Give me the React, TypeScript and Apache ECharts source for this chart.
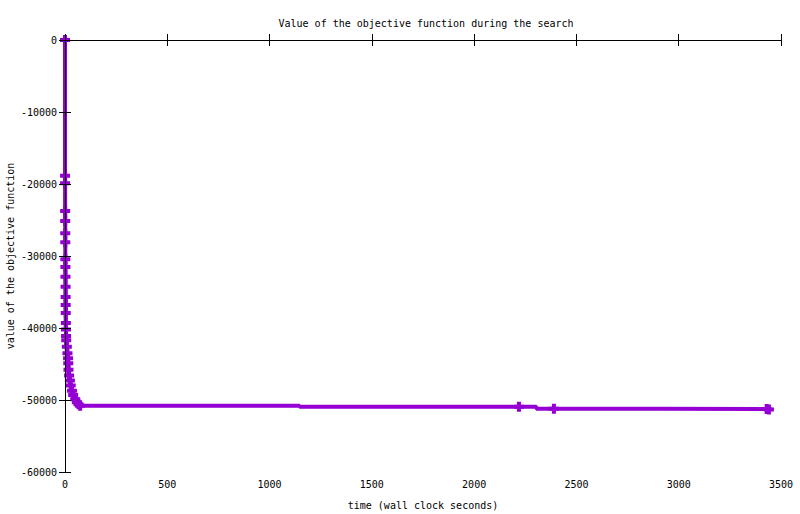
import React, { useEffect, useRef } from "react";
import * as echarts from "echarts";

const titleText = "Value of the objective function during the search";
const xName = "time (wall clock seconds)";
const yName = "value of the objective function";

const times = [
  0, 0.3, 0.5, 0.8, 1.0, 1.2, 1.4, 1.7, 2.0, 2.3, 2.7, 3.0, 3.3, 3.7, 4.2, 4.7, 5.2, 6, 9, 12, 15,
  16, 17, 20, 24, 28, 34, 40, 50, 58, 66, 74, 2219, 2390, 3430, 3441,
];
const values = [
  0, -18850, -19900, -23750, -25140, -26850, -28100, -30440, -31530, -32870, -34260, -35700,
  -36800, -37900, -39300, -40200, -41100, -41700, -42600, -43500, -44200, -44900, -45800,
  -46600, -47300, -48000, -48700, -49300, -49900, -50300, -50600, -50800, -50930, -51210,
  -51250, -51330,
];

const xMin = 0;
const xMax = 3500;
const xStep = 500;
const yMin = -60000;
const yMax = 0;
const yStep = 10000;

const FONT = "DejaVu Sans Mono";
const PLUS = "path://M3,0H7V3H10V7H7V10H3V7H0V3H3Z";

export default function App() {
  const ref = useRef<HTMLDivElement>(null);
  useEffect(() => {
    if (!ref.current) return;
    const chart = echarts.init(ref.current, undefined, { renderer: "svg" });
    const data = times.map((t, i) => [t, values[i]]);
    const axisCommon = {
      type: "value" as const,
      axisLine: { show: true, lineStyle: { color: "#000", width: 1 } },
      axisTick: { show: true, inside: true, length: 6, lineStyle: { color: "#000" } },
      splitLine: { show: false },
      z: 5,
    };
    const fmt = (v: number) => String(v);
    chart.setOption({
      animation: false,
      backgroundColor: "#fff",
      title: {
        text: titleText,
        left: 421,
        top: 13,
        textAlign: "center",
        textStyle: { fontFamily: FONT, fontSize: 10, fontWeight: "normal", color: "#000" },
      },
      grid: { left: 65, right: 19, top: 40, bottom: 42, containLabel: false, outerBoundsMode: "none" },
      xAxis: [
        {
          ...axisCommon,
          min: xMin,
          max: xMax,
          interval: xStep,
          position: "bottom",
          name: xName,
          nameLocation: "middle",
          nameGap: 28,
          nameMoveOverlap: false,
          nameTextStyle: { fontFamily: FONT, fontSize: 10, color: "#000" },
          axisLabel: { fontFamily: FONT, fontSize: 10, color: "#000", margin: 7, formatter: fmt },
        },
        {
          ...axisCommon,
          min: xMin,
          max: xMax,
          interval: xStep,
          position: "top",
          axisLabel: { show: false },
        },
      ],
      yAxis: [
        {
          ...axisCommon,
          min: yMin,
          max: yMax,
          interval: yStep,
          position: "left",
          name: yName,
          nameLocation: "middle",
          nameRotate: 90,
          nameGap: 50,
          nameMoveOverlap: false,
          nameTextStyle: { fontFamily: FONT, fontSize: 10, color: "#000" },
          axisLabel: { fontFamily: FONT, fontSize: 10, color: "#000", margin: 8, formatter: fmt },
        },
        {
          ...axisCommon,
          min: yMin,
          max: yMax,
          interval: yStep,
          position: "right",
          axisLabel: { show: false },
        },
      ],
      series: [
        {
          type: "line",
          data,
          xAxisIndex: 0,
          yAxisIndex: 0,
          step: "middle",
          clip: false,
          showSymbol: true,
          showAllSymbol: true,
          symbol: PLUS,
          symbolSize: 10,
          lineStyle: { color: "#9400d3", width: 4 },
          itemStyle: { color: "#9400d3" },
          z: 2,
        },
      ],
    });
    return () => chart.dispose();
  }, []);
  return (
    <div
      ref={ref}
      style={{ position: "fixed", left: 0, top: 0, width: 800, height: 514 }}
    />
  );
}
